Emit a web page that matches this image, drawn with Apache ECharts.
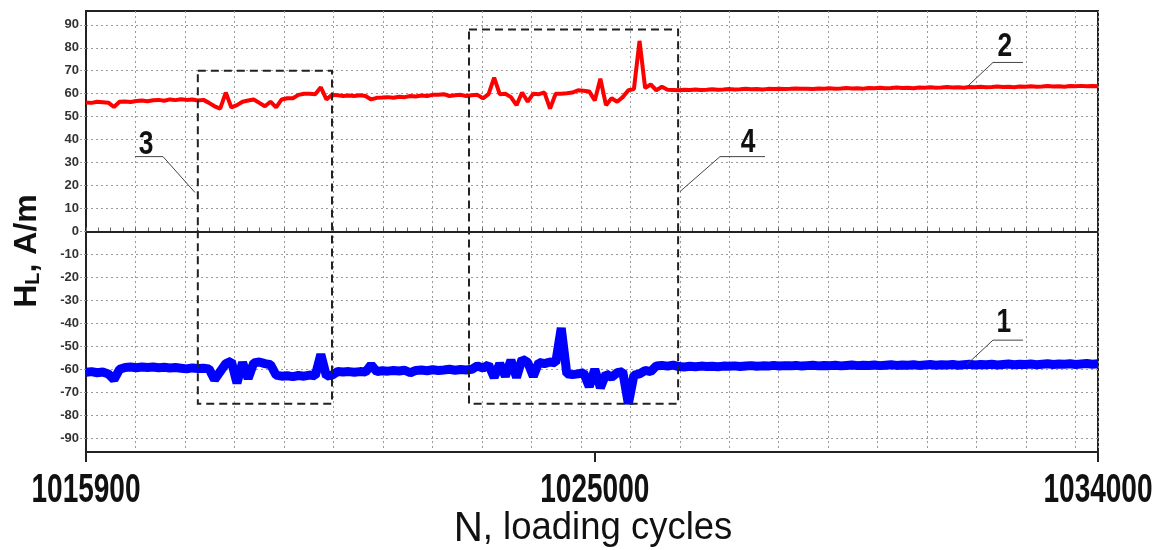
<!DOCTYPE html>
<html>
<head>
<meta charset="utf-8">
<script src="https://cdn.jsdelivr.net/npm/echarts@6/dist/echarts.min.js"></script>
<style>
  html, body { margin: 0; padding: 0; background: #fff; }
  #chart { width: 1158px; height: 550px; }
</style>
</head>
<body>
<div id="chart"></div>
<script>
// Loading-cycle axis: samples every 100 cycles
const cycleStart = 1015900;
const cycleEnd = 1034000;
const cycleStep = 100;
const xLabelCycles = [1015900, 1025000, 1034000];
const gridStepCycles = 885;
const yMin = -96;
const yMax = 96;
const yTickValues = [-90, -80, -70, -60, -50, -40, -30, -20, -10, 0, 10, 20, 30, 40, 50, 60, 70, 80, 90];

// Curve 1 (blue) and curve 2 (red), H_L in A/m
const curve1 = [
  -61.3, -61.0, -61.5, -61.2, -62.0, -64.5, -60.0, -59.2, -59.0, -59.3,
  -59.0, -59.2, -59.0, -59.3, -59.1, -59.4, -59.2, -59.5, -59.8, -59.4,
  -59.6, -59.5, -59.8, -64.5, -61.0, -57.5, -56.5, -66.0, -57.0, -64.0,
  -57.2, -56.8, -57.5, -58.0, -62.5, -63.0, -62.8, -63.2, -62.7, -63.0,
  -62.5, -62.8, -53.5, -63.0, -62.5,
  -61.0, -61.2, -61.0, -61.3, -61.0, -61.2, -58.0, -61.0, -60.6, -60.8,
  -60.5, -60.7, -60.4, -61.5, -60.5, -60.3, -60.6, -60.2, -60.5, -60.3,
  -60.0, -60.4, -60.1, -60.3,
  -60.0, -58.5, -59.5, -58.0, -63.5, -57.5, -63.0, -56.0, -63.5, -55.5,
  -57.0, -63.0, -57.0, -57.5, -56.8, -57.2, -42.0, -62.0, -62.3, -62.0,
  -61.5, -67.5, -60.0, -68.0, -62.0, -63.5, -61.5, -61.0, -75.0, -62.5,
  -62.0, -60.5, -61.0, -58.5, -58.3, -58.6, -58.2,
  -58.8, -59.0, -58.7, -58.9, -58.6, -58.8, -58.7, -58.9, -58.6, -58.7,
  -58.5, -58.8, -58.6, -58.4, -58.7, -58.5, -58.6, -58.3, -58.6, -58.4,
  -58.5, -58.3, -58.6, -58.4, -58.2, -58.5, -58.3, -58.4, -58.2, -58.5,
  -58.3, -58.1, -58.4, -58.2, -58.3, -58.1, -58.4, -58.2, -58.0, -58.3,
  -58.1, -58.2, -58.0, -58.3, -58.1, -57.9, -58.2, -58.0, -58.1, -57.9,
  -58.2, -58.0, -57.8, -58.1, -57.9, -58.0, -57.8, -58.1, -57.9, -57.7,
  -58.0, -57.8, -57.9, -57.7, -58.0, -57.8, -57.6, -57.9, -57.7, -57.8,
  -57.6, -57.9, -57.7, -57.5, -57.8, -57.6
];

const curve2 = [
  56.2, 56.0, 56.5, 56.3, 56.1, 54.2, 56.5, 56.6, 56.4, 56.8,
  57.0, 56.7, 57.1, 57.3, 56.9, 57.5, 57.2, 57.6, 57.3, 57.5,
  57.0, 57.3, 56.0, 54.5, 53.5, 60.5, 54.0, 55.0, 56.5, 57.0,
  57.5, 56.0, 54.5, 56.5, 54.0, 57.5, 58.0, 58.0, 59.5, 60.0,
  60.0, 59.8, 62.8, 57.5, 59.5,
  59.3, 59.0, 59.2, 59.0, 59.3, 59.0, 57.5, 58.2, 58.3, 58.5,
  58.2, 58.7, 58.5, 59.0, 58.8, 59.2, 59.0, 59.5, 59.5, 59.8,
  59.0, 59.3, 59.5, 59.0,
  59.3, 59.5, 58.0, 59.8, 67.0, 59.8, 60.0, 58.5, 55.0, 60.5,
  56.5, 60.0, 59.8, 60.5, 53.5, 60.0, 60.0, 60.2, 60.5, 61.5,
  61.3, 61.0, 57.0, 66.5, 55.0, 58.0, 56.5, 58.5, 61.5, 62.0,
  83.0, 62.5, 64.0, 61.5, 63.0, 61.7, 61.6,
  61.5, 61.7, 61.6, 61.8, 61.6, 61.7, 61.9, 61.7, 61.8, 62.0,
  61.8, 61.9, 62.1, 61.9, 62.0, 61.8, 62.1, 62.0, 62.2, 62.0,
  62.1, 62.3, 62.1, 62.2, 62.0, 62.3, 62.2, 62.4, 62.2, 62.3,
  62.5, 62.3, 62.4, 62.2, 62.5, 62.4, 62.6, 62.4, 62.5, 62.7,
  62.5, 62.6, 62.4, 62.7, 62.6, 62.8, 62.6, 62.7, 62.9, 62.7,
  62.8, 62.6, 62.9, 62.8, 63.0, 62.8, 62.9, 63.1, 62.9, 63.0,
  62.8, 63.1, 63.0, 63.2, 63.0, 63.1, 63.3, 63.1, 63.2, 63.0,
  63.3, 63.2, 63.4, 63.2, 63.3, 63.2
];

// Dashed regions 3 and 4: [cycles, H_L] corners
const region3 = [[1017900, 70], [1020300, -75]];
const region4 = [[1022750, 88], [1026490, -75]];

// Callout numbers and their leader lines
const calloutNames = ['1', '2', '3', '4'];
const calloutTextAt = [[1032318, -39.6], [1032336, 80.4], [1016973, 37.8], [1027740, 38.7]];
const leader1 = [[1032658, -47.3], [1032122, -47.3], [1031657, -57.8]];
const leader2 = [[1032658, 73.6], [1032122, 73.6], [1031657, 63.0]];
const leader3 = [[1016776, 32.6], [1017277, 32.6], [1017849, 17.0]];
const leader4 = [[1028044, 32.6], [1027239, 32.6], [1026524, 17.4]];

const sans = "'Liberation Sans', Arial, sans-serif";

function toPoints(values) {
  return values.map((v, i) => [cycleStart + i * cycleStep, v]);
}

// Quarter-grid minor tick positions along the cycle axis
const minorTicks = [];
for (let c = cycleStart; c <= cycleEnd; c += gridStepCycles / 4) minorTicks.push(c);

const gridSpan = (cycleEnd - cycleStart) / gridStepCycles;

const chart = echarts.init(document.getElementById('chart'), null, { renderer: 'canvas' });

const leaderSeries = [leader1, leader2, leader3, leader4].map(pts => ({
  type: 'line',
  xAxisIndex: 0,
  yAxisIndex: 0,
  data: pts,
  symbol: 'none',
  silent: true,
  z: 6,
  lineStyle: { color: '#444', width: 1 },
  animation: false
}));

chart.setOption({
  animation: false,
  backgroundColor: '#fff',
  grid: {
    left: 86, right: 60, top: 11, bottom: 98,
    outerBoundsMode: 'none', containLabel: false,
    show: true, borderColor: '#222', borderWidth: 2, backgroundColor: 'transparent'
  },
  xAxis: [
    {
      type: 'value', min: cycleStart, max: cycleEnd,
      axisLine: { show: true, onZero: false, lineStyle: { color: '#222', width: 2 } },
      axisTick: { show: true, customValues: xLabelCycles, length: 10, lineStyle: { color: '#222', width: 2 } },
      axisLabel: { show: false },
      splitLine: { show: false }
    },
    {
      type: 'value', min: cycleStart, max: cycleEnd,
      axisLine: { show: false },
      axisTick: { show: true, customValues: minorTicks, length: 4, lineStyle: { color: '#666', width: 1 } },
      axisLabel: { show: false },
      splitLine: { show: false }
    },
    {
      type: 'value', min: 0, max: gridSpan, interval: 1,
      axisLine: { show: false }, axisTick: { show: false }, axisLabel: { show: false },
      splitLine: { show: true, lineStyle: { color: '#9a9a9a', width: 1, type: [2, 3] } }
    }
  ],
  yAxis: [
    {
      type: 'value', min: yMin, max: yMax,
      axisLine: { show: true, onZero: false, lineStyle: { color: '#222', width: 2 } },
      axisTick: { show: true, customValues: yTickValues, length: 6, lineStyle: { color: '#9a9a9a', width: 1, type: [2, 2] } },
      axisLabel: {
        show: true, customValues: yTickValues, margin: 7,
        fontFamily: sans, fontWeight: 'bold', fontSize: 13, color: '#333'
      },
      splitLine: { show: true, lineStyle: { color: '#9a9a9a', width: 1, type: [2, 3] } }
    }
  ],
  series: [
    {
      name: '1', type: 'line', data: toPoints(curve1), symbol: 'none', silent: true, z: 3,
      lineStyle: { color: '#0000ff', width: 9, join: 'bevel' },
      markLine: {
        silent: true, symbol: 'none', z: 4,
        label: { show: false },
        lineStyle: { color: '#222', width: 2, type: 'solid' },
        data: [{ yAxis: 0 }]
      },
      markArea: {
        silent: true, z: 8,
        label: { show: false },
        itemStyle: { color: 'rgba(0,0,0,0)', borderColor: '#222', borderWidth: 2, borderType: [8, 5] },
        data: [
          [{ coord: region3[0] }, { coord: region3[1] }],
          [{ coord: region4[0] }, { coord: region4[1] }]
        ]
      }
    },
    {
      name: '2', type: 'line', data: toPoints(curve2), symbol: 'none', silent: true, z: 3,
      lineStyle: { color: '#ff0000', width: 4, join: 'bevel' }
    },
    ...leaderSeries
  ]
});

// Condensed bold texts: tick labels, callout numbers and the axis titles,
// placed through the chart's own axis scales.
const px = v => chart.convertToPixel({ xAxisIndex: 0 }, v);
const py = v => chart.convertToPixel({ yAxisIndex: 0 }, v);
const axisBottom = py(yMin);

const graphics = [];
xLabelCycles.forEach(c => {
  graphics.push({
    type: 'text', x: px(c), y: axisBottom + 39, scaleX: 0.7, silent: true,
    style: {
      text: String(c), align: 'center', verticalAlign: 'middle',
      font: 'bold 40px ' + sans, fill: '#111'
    }
  });
});
calloutNames.forEach((n, i) => {
  graphics.push({
    type: 'text', x: px(calloutTextAt[i][0]), y: py(calloutTextAt[i][1]), scaleX: 0.8, silent: true, z: 10,
    style: {
      text: n, align: 'center', verticalAlign: 'middle',
      font: 'bold 33px ' + sans, fill: '#111'
    }
  });
});
graphics.push({
  type: 'text', x: 27, y: 251, rotation: Math.PI / 2, silent: true,
  style: {
    text: '{h|H}{s|L}{h|, A/m}',
    align: 'center', verticalAlign: 'middle',
    rich: {
      h: { fontFamily: sans, fontWeight: 'bold', fontSize: 32, fill: '#111' },
      s: { fontFamily: sans, fontWeight: 'bold', fontSize: 20, fill: '#111', verticalAlign: 'bottom', lineHeight: 14 }
    }
  }
});
graphics.push({
  type: 'text', x: 593, y: 529, scaleX: 0.96, silent: true,
  style: {
    text: '{n|N}{t|, loading cycles}',
    align: 'center', verticalAlign: 'middle',
    rich: {
      n: { fontFamily: sans, fontSize: 42, fill: '#111' },
      t: { fontFamily: sans, fontSize: 38, fill: '#111' }
    }
  }
});

chart.setOption({ graphic: graphics });
</script>
</body>
</html>
